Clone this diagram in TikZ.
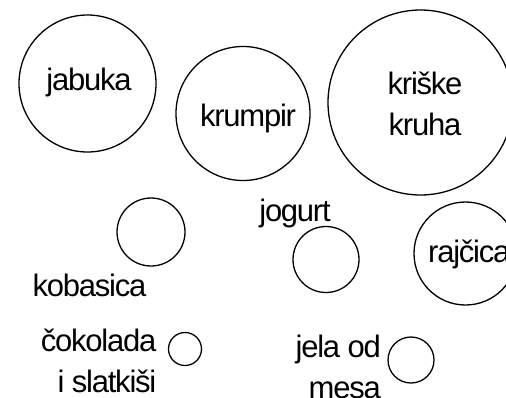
\documentclass[tikz,border=0pt]{standalone}
\usepackage{fontspec}
\setmainfont{Liberation Sans}[LetterSpace=-4]
\newcommand\lblfont{\fontsize{31}{41}\selectfont}
\begin{document}
\begin{tikzpicture}[x=1pt,y=-1pt,
  ring/.style={draw,circle,line width=1.3pt,inner sep=0pt},
  lab/.style={inner sep=0pt,font=\lblfont}]
\useasboundingbox (0,0) rectangle (506,397);
\clip (0,0) rectangle (506,397);
% circles
\node[ring,minimum size=137pt] (cjab) at (87.5,83.5) {};
\node[ring,minimum size=134pt] (ckru) at (243,113.5) {};
\node[ring,minimum size=185pt] (ckri) at (420.5,102.5) {};
\node[ring,minimum size=103pt] (craj) at (465.5,253.5) {};
\node[ring,minimum size=66pt] (cjog) at (326,259.5) {};
\node[ring,minimum size=68pt] (ckob) at (151,232) {};
\node[ring,minimum size=33pt] (ccok) at (185,349) {};
\node[ring,minimum size=46pt] (cjel) at (411,360) {};
% labels
\node[lab,anchor=base] (tjab) at (89,90.5) {jabuka};
\node[lab,anchor=base] (tkru) at (248,126) {krumpir};
\node[lab,anchor=base,align=center] (tkri) at (425,135) {kriške\\kruha};
\node[lab,anchor=base west] (traj) at (428,262) {rajčica};
\node[lab,anchor=base] (tjog) at (295,221) {jogurt};
\node[lab,anchor=base] (tkob) at (89.5,296) {kobasica};
\node[lab,anchor=base east,align=right] (tcok) at (156.5,392) {čokolada\\i slatkiši};
\node[lab,anchor=base east,align=right] (tjel) at (381,398) {jela od\\mesa};
\end{tikzpicture}
\end{document}
